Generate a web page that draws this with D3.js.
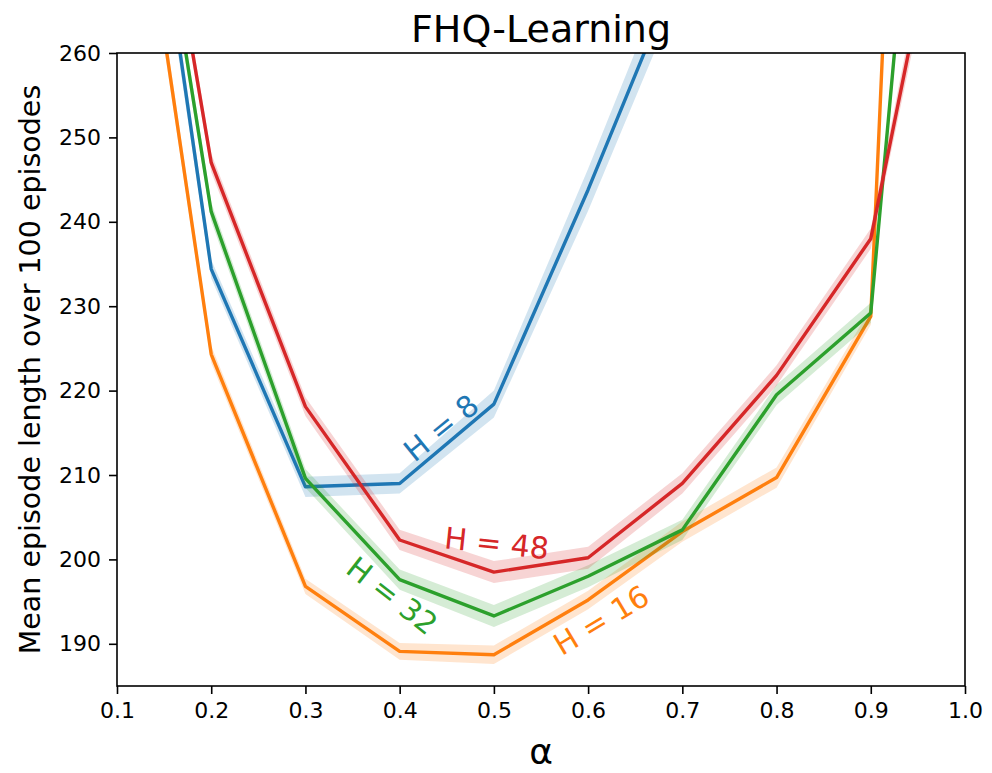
<html>
	<head>
		<title>FHQ-Learning</title>
        <style>
            body {
                margin:0;
                background:#fff;
            }
            svg text {
                font-family:"DejaVu Sans";
            }
        </style>
	</head>
	<body>
        <svg></svg>
        <script src="https://d3js.org/d3.v7.min.js"></script>
        <script>
            // alpha values on the x axis
            const alphas = [0.1, 0.2, 0.3, 0.4, 0.5, 0.6, 0.7, 0.8, 0.9, 1.0];

            // mean episode length, one array per horizon H (null = not drawn)
            const h8  = [312, 234.4, 208.6, 209.0, 218.4, 243.8, 271, null, null, null];
            const h16 = [300, 224.3, 196.8, 189.1, 188.7, 195.2, 203.3, 209.7, 228.8, 480];
            const h32 = [311, 241.2, 209.6, 197.6, 193.3, 198.0, 203.5, 219.5, 229.2, 352];
            const h48 = [313, 247.0, 218.1, 202.3, 198.5, 200.2, 209.0, 221.8, 238.0, 293];

            // half width of the shaded band around each line
            const h8err  = [3, 1.1, 1.2, 1.2, 1.6, 2.5, 3, null, null, null];
            const h16err = [2, 1.0, 0.9, 1.0, 1.1, 1.1, 1.2, 1.2, 1.0, 3];
            const h32err = [2, 1.1, 1.1, 1.2, 1.3, 1.3, 1.2, 1.2, 1.2, 3];
            const h48err = [2, 1.1, 1.1, 1.2, 1.3, 1.3, 1.2, 1.2, 1.2, 3];

            const xTicks = [0.1, 0.2, 0.3, 0.4, 0.5, 0.6, 0.7, 0.8, 0.9, 1.0];
            const yTicks = [190, 200, 210, 220, 230, 240, 250, 260];

            // inline labels: text, alpha, length, rotation
            const labelText = ["H = 8", "H = 16", "H = 32", "H = 48"];
            const labelX    = [0.444, 0.614, 0.392, 0.503];
            const labelY    = [215.6, 192.8, 195.7, 201.9];
            const labelRot  = [-39, -31, 38, 6];

            const width = 992;
            const height = 773;
            const margin = ({top: 53, right: 27, bottom: 87, left: 117});

            const series = [
                {values: h8,  err: h8err,  color: "#1f77b4"},
                {values: h16, err: h16err, color: "#ff7f0e"},
                {values: h32, err: h32err, color: "#2ca02c"},
                {values: h48, err: h48err, color: "#d62728"}
            ];

            const svg = d3.select("svg")
                .attr("width", width)
                .attr("height", height);

            const cx = d3.scaleLinear()
                .domain([0.1, 1.0])
                .range([margin.left, width - margin.right]);

            const cy = d3.scaleLinear()
                .domain([185, 260])
                .range([height - margin.bottom, margin.top]);

            svg.append("clipPath")
                .attr("id", "plot")
                .append("rect")
                .attr("x", margin.left)
                .attr("y", margin.top)
                .attr("width", width - margin.left - margin.right)
                .attr("height", height - margin.top - margin.bottom);

            const plot = svg.append("g").attr("clip-path", "url(#plot)");

            const band = d3.area()
                .defined(d => d != null)
                .x((d, i) => cx(alphas[i]));

            const line = d3.line()
                .defined(d => d != null)
                .x((d, i) => cx(alphas[i]))
                .y(d => cy(d));

            series.forEach(s => {
                plot.append("path")
                    .datum(s.values)
                    .attr("fill", s.color)
                    .attr("fill-opacity", 0.2)
                    .attr("d", band
                        .y0((d, i) => cy(d - s.err[i]))
                        .y1((d, i) => cy(d + s.err[i])));
                plot.append("path")
                    .datum(s.values)
                    .attr("fill", "none")
                    .attr("stroke", s.color)
                    .attr("stroke-width", 3.4)
                    .attr("stroke-linejoin", "round")
                    .attr("d", line);
            });

            // line labels
            svg.selectAll(".lbl")
                .data(labelText)
                .enter().append("text")
                .attr("class", "lbl")
                .attr("text-anchor", "middle")
                .attr("dominant-baseline", "central")
                .attr("font-size", 30)
                .attr("fill", (d, i) => series[i].color)
                .attr("transform", (d, i) => "translate(" + cx(labelX[i]) + "," + cy(labelY[i]) + ") rotate(" + labelRot[i] + ")")
                .text(d => d);

            // axes
            const xAxis = d3.axisBottom(cx)
                .tickValues(xTicks)
                .tickFormat(d3.format(".1f"))
                .tickSize(8)
                .tickPadding(8)
                .tickSizeOuter(0);

            const yAxis = d3.axisLeft(cy)
                .tickValues(yTicks)
                .tickSize(8)
                .tickPadding(8)
                .tickSizeOuter(0);

            const gX = svg.append("g")
                .attr("transform", `translate(0,${height - margin.bottom})`)
                .call(xAxis);
            const gY = svg.append("g")
                .attr("transform", `translate(${margin.left},0)`)
                .call(yAxis);

            [gX, gY].forEach(g => {
                g.select(".domain").remove();
                g.selectAll(".tick line").attr("stroke", "#000").attr("stroke-width", 1.6);
                g.selectAll(".tick text")
                    .attr("font-family", "DejaVu Sans")
                    .attr("font-size", 22)
                    .attr("fill", "#000");
            });

            // frame
            svg.append("rect")
                .attr("x", margin.left)
                .attr("y", margin.top)
                .attr("width", width - margin.left - margin.right)
                .attr("height", height - margin.top - margin.bottom)
                .attr("fill", "none")
                .attr("stroke", "#000")
                .attr("stroke-width", 1.6);

            svg.append("text")
                .attr("x", (margin.left + width - margin.right) / 2)
                .attr("y", 42)
                .attr("text-anchor", "middle")
                .attr("font-size", 38)
                .text("FHQ-Learning");

            svg.append("text")
                .attr("x", (margin.left + width - margin.right) / 2)
                .attr("y", 764)
                .attr("text-anchor", "middle")
                .attr("font-size", 36)
                .text("α");

            svg.append("text")
                .attr("transform", "translate(40," + (margin.top + height - margin.bottom) / 2 + ") rotate(-90)")
                .attr("text-anchor", "middle")
                .attr("font-size", 28.5)
                .text("Mean episode length over 100 episodes");
        </script>
	</body>
</html>
